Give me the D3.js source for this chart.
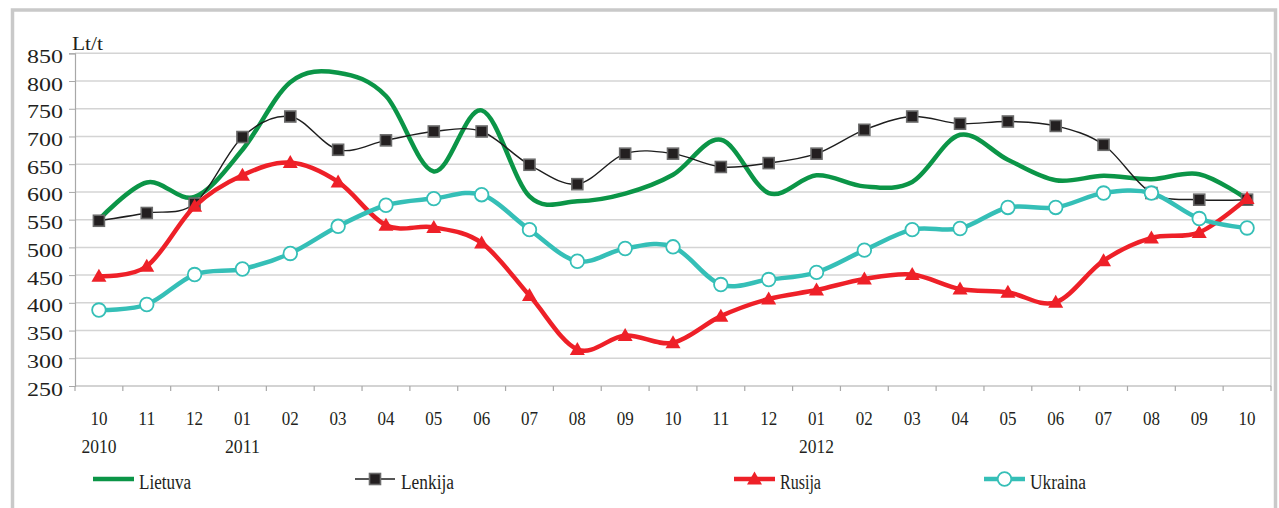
<!DOCTYPE html>
<html><head><meta charset="utf-8">
<script src="https://cdn.jsdelivr.net/npm/d3@7"></script>
<style>
html,body{margin:0;padding:0;background:#fff;}
svg text{font-family:"Liberation Serif","Times New Roman","DejaVu Serif",serif;fill:#231f20;}
</style></head>
<body>
<svg id="chart" width="1279" height="508"></svg>
<script>
const months = ["10","11","12","01","02","03","04","05","06","07","08","09","10","11","12","01","02","03","04","05","06","07","08","09","10"];
const years = [{i:0,label:"2010"},{i:3,label:"2011"},{i:15,label:"2012"}];
const yTicks = [250,300,350,400,450,500,550,600,650,700,750,800,850];

const lietuva = [550,617,591,676,798,815,773,637,747,592,583,597,631,694,598,630,610,618,703,658,621,629,623,632,587];
const lenkija = [548,562,579,699,736,676,693,709,709,649,614,669,669,645,652,669,712,736,723,727,719,685,598,586,586];
const rusija  = [448,466,574,630,653,618,540,536,508,413,316,341,328,376,407,423,443,451,425,419,401,476,517,527,588];
const ukraina = [387,397,451,461,489,538,576,588,595,532,475,498,501,433,442,455,495,532,534,572,572,598,598,552,535];

const FONT = "Liberation Serif, Times New Roman, DejaVu Serif, serif";
const svg = d3.select("#chart");
const m = {left:75, right:1271, top:53.3, bottom:386};

// outer frame
svg.append("rect").attr("x",12.5).attr("y",10).attr("width",1263).attr("height",520)
  .attr("fill","none").attr("stroke","#c9c9c9").attr("stroke-width",3.5);

const x = d3.scaleBand().domain(d3.range(months.length)).range([m.left,m.right]).padding(0);
const cx = i => x(i) + x.bandwidth()/2;
const y = d3.scaleLinear().domain([250,850]).range([m.bottom,m.top]);

// gridlines
svg.append("g").selectAll("line").data(yTicks.slice(1)).join("line")
  .attr("x1",m.left).attr("x2",m.right).attr("y1",d=>y(d)).attr("y2",d=>y(d))
  .attr("stroke","#d4d4d4").attr("stroke-width",1.5);
svg.append("line").attr("x1",m.right).attr("x2",m.right).attr("y1",m.top).attr("y2",m.bottom)
  .attr("stroke","#d4d4d4").attr("stroke-width",1.5);

// y axis
const yAxis = d3.axisLeft(y).tickValues(yTicks).tickSize(6).tickPadding(6).tickFormat(d3.format("d"));
const gy = svg.append("g").attr("transform",`translate(${m.left},0)`).call(yAxis);
gy.attr("font-family",FONT);
gy.select(".domain").attr("stroke","#a8a8a8").attr("stroke-width",1.2);
gy.selectAll(".tick line").attr("stroke","#a8a8a8");
gy.selectAll("text").attr("font-size",18).attr("fill","#231f20").attr("font-family",FONT)
  .attr("dy",null).attr("y",9).attr("textLength",36).attr("lengthAdjust","spacingAndGlyphs");

svg.append("text").attr("x",72).attr("y",50).attr("font-size",18).attr("font-family",FONT)
  .attr("textLength",31).attr("lengthAdjust","spacingAndGlyphs").text("Lt/t");

// x axis
const gx = svg.append("g").attr("transform",`translate(0,${m.bottom})`);
gx.append("line").attr("x1",m.left).attr("x2",m.right).attr("y1",0).attr("y2",0).attr("stroke","#a8a8a8").attr("stroke-width",1.2);
gx.selectAll("line.tk").data(d3.range(months.length+1)).join("line").attr("class","tk")
  .attr("x1",i=>m.left + i*x.bandwidth()).attr("x2",i=>m.left + i*x.bandwidth())
  .attr("y1",0).attr("y2",5).attr("stroke","#a8a8a8").attr("stroke-width",1.2);
gx.selectAll("text.mo").data(months).join("text").attr("class","mo").attr("font-family",FONT)
  .attr("x",(d,i)=>cx(i)).attr("y",39).attr("text-anchor","middle").attr("font-size",19.5)
  .attr("textLength",17).attr("lengthAdjust","spacingAndGlyphs").text(d=>d);
gx.selectAll("text.yr").data(years).join("text").attr("class","yr").attr("font-family",FONT)
  .attr("x",d=>cx(d.i)).attr("y",67).attr("text-anchor","middle").attr("font-size",19.5)
  .attr("textLength",35).attr("lengthAdjust","spacingAndGlyphs").text(d=>d.label);

const line = d3.line().x((d,i)=>cx(i)).y(d=>y(d)).curve(d3.curveCardinal.tension(0));

const series = [
  {name:"Lietuva", data:lietuva, color:"#0b9547", width:4.5, marker:null, tl:52},
  {name:"Lenkija", data:lenkija, color:"#1e1e1e", width:1.4, marker:"square", tl:53},
  {name:"Rusija",  data:rusija,  color:"#ee2028", width:4.5, marker:"triangle", tl:41},
  {name:"Ukraina", data:ukraina, color:"#35bfb7", width:4.5, marker:"circle", tl:56}
];

function drawMarker(g, type, px, py, s){
  if(type==="square"){
    g.append("rect").attr("x",px-5.5).attr("y",py-5.5).attr("width",11).attr("height",11)
      .attr("fill","#231f20").attr("stroke","#6b6b6b").attr("stroke-width",1.6);
  } else if(type==="triangle"){
    g.append("path").attr("d",`M${px},${py-7.5}L${px+7.5},${py+5.5}L${px-7.5},${py+5.5}Z`).attr("fill",s.color);
  } else if(type==="circle"){
    g.append("circle").attr("cx",px).attr("cy",py).attr("r",6.8).attr("fill","#fff")
      .attr("stroke",s.color).attr("stroke-width",1.8);
  }
}

series.forEach(s=>{
  const g = svg.append("g");
  g.append("path").attr("d",line(s.data)).attr("fill","none").attr("stroke",s.color)
    .attr("stroke-width",s.width).attr("stroke-linejoin","round").attr("stroke-linecap","round");
  if(s.marker) s.data.forEach((v,i)=>drawMarker(g,s.marker,cx(i),y(v),s));
});

// legend
const legendPos = [{x1:93,x2:134,tx:139},{x1:355,x2:395,tx:401},{x1:734,x2:775,tx:780},{x1:984,x2:1025,tx:1030}];
series.forEach((s,k)=>{
  const p = legendPos[k];
  const g = svg.append("g");
  const ly = 479;
  g.append("line").attr("x1",p.x1).attr("x2",p.x2).attr("y1",ly).attr("y2",ly)
    .attr("stroke",s.color).attr("stroke-width",s.width);
  if(s.marker) drawMarker(g,s.marker,(p.x1+p.x2)/2,ly,s);
  g.append("text").attr("x",p.tx).attr("y",489).attr("font-size",20).attr("font-family",FONT)
    .attr("textLength",s.tl).attr("lengthAdjust","spacingAndGlyphs").text(s.name);
});
</script>
</body></html>
